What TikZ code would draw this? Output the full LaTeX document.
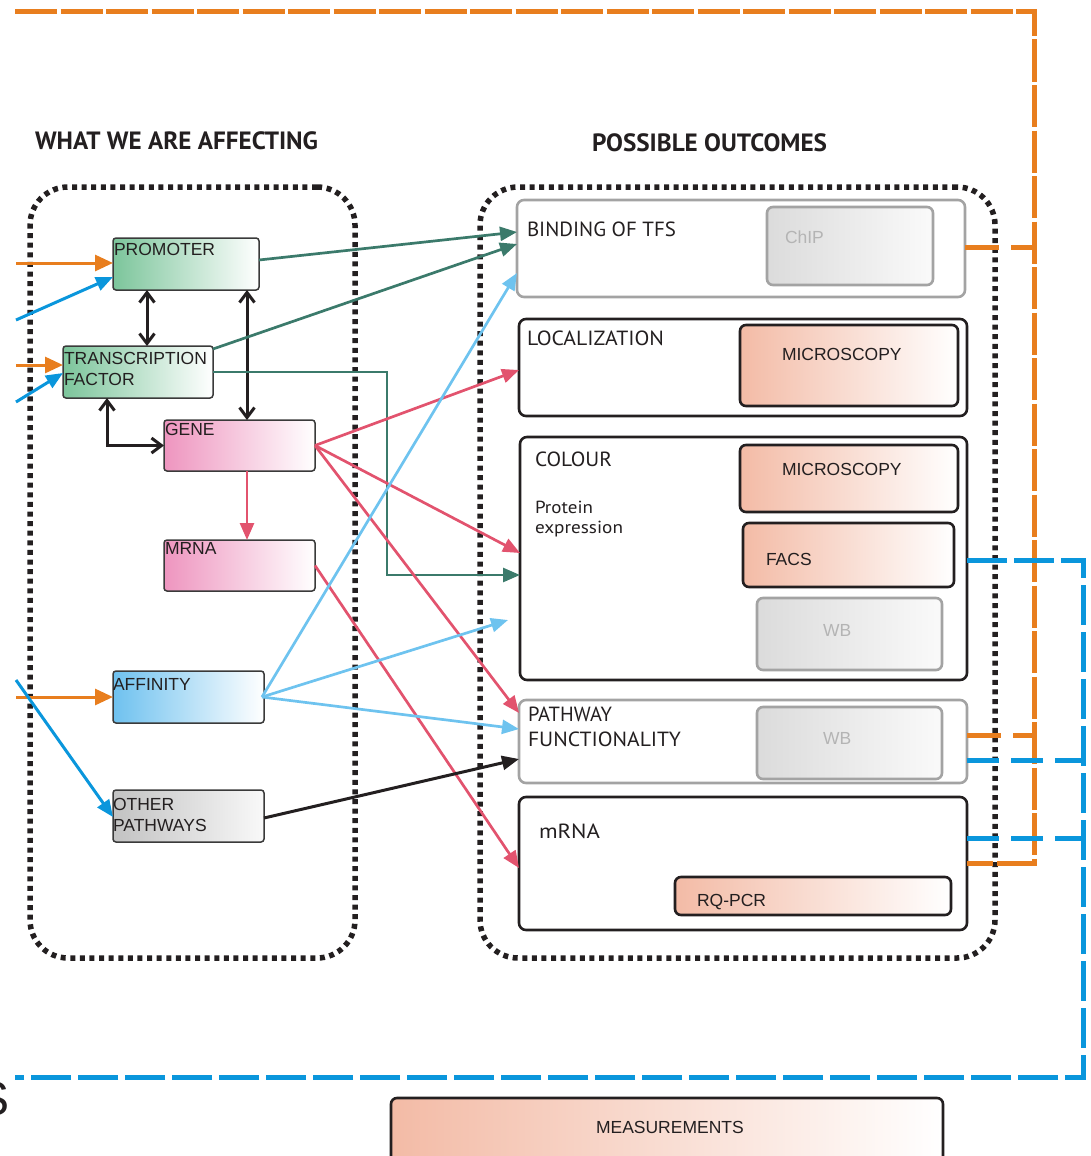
\documentclass[tikz,border=0pt]{standalone}
\usepackage{fontspec}
\usepackage{graphicx}
\setmainfont{Liberation Sans}
\newfontfamily\outfont{PT Sans}
\usetikzlibrary{arrows.meta,calc}

\definecolor{ink}{HTML}{231F20}
\definecolor{boxline}{HTML}{3A3A3A}
\definecolor{cgreen}{HTML}{7CC59B}
\definecolor{cpink}{HTML}{EE95BF}
\definecolor{cblue}{HTML}{6EC1EF}
\definecolor{cgrey}{HTML}{C2C2C2}
\definecolor{csalmon}{HTML}{F3BBA6}
\definecolor{ggrey}{HTML}{A3A3A3}
\definecolor{gtext}{HTML}{B4B4B4}
\definecolor{teal}{HTML}{3B7A6B}
\definecolor{cred}{HTML}{E2536E}
\definecolor{lblue}{HTML}{6EC3EF}
\definecolor{corange}{HTML}{E87E1E}
\definecolor{cdblue}{HTML}{0A96DC}

\newcommand\fitto[2]{\resizebox{#1}{\height}{#2}}

\begin{document}
\begin{tikzpicture}[x=1pt,y=-1pt,
  every node/.style={inner sep=0pt,outer sep=0pt,text=ink},
  wh/.style 2 args={minimum width=#1pt,minimum height=#2pt},
  lbox/.style={draw=boxline,line width=1.5pt,rounded corners=3pt,anchor=north west},
  greenbox/.style={lbox,left color=cgreen,right color=white},
  pinkbox/.style={lbox,left color=cpink,right color=white},
  bluebox/.style={lbox,left color=cblue,right color=white},
  greybox/.style={lbox,left color=cgrey,right color=gray!5},
  outbox/.style={draw=ink,line width=2.6pt,rounded corners=7pt,anchor=north west,fill=white},
  outboxg/.style={outbox,draw=ggrey},
  measbox/.style={draw=ink,line width=2.6pt,rounded corners=6pt,anchor=north west,left color=csalmon,right color=white},
  methbox/.style={draw=ggrey,line width=2.6pt,rounded corners=6pt,anchor=north west,left color=gray!28,right color=gray!4},
  frame/.style={draw=ink,line width=5.5pt,dash pattern=on 5pt off 4.6pt,rounded corners=38pt,anchor=north west},
  lab/.style={anchor=base west,align=left,font=\fontsize{17.5}{21}\selectfont},
  mlab/.style={anchor=base west,font=\fontsize{17.5}{21}\selectfont},
  glab/.style={mlab,text=gtext},
  olab/.style={anchor=base west,align=left,font=\outfont\fontsize{20.5}{25}\selectfont},
  hlab/.style={anchor=base west,font=\outfont\bfseries\fontsize{25}{30}\selectfont},
  conn/.style={line width=2.7pt},
  tip/.style={-{Triangle[length=17pt,width=14pt]}},
  tealarr/.style={conn,draw=teal,tip},
  redarr/.style={conn,draw=cred,tip},
  lbarr/.style={conn,draw=lblue,tip},
  blkarr/.style={conn,line width=3pt,draw=ink,tip},
  blkdbl/.style={conn,line width=3pt,draw=ink,{Straight Barb[length=10pt,width=15pt]}-{Straight Barb[length=10pt,width=15pt]}},
  orarr/.style={line width=3pt,draw=corange,-{Triangle[length=18pt,width=16pt]}},
  bluarr/.style={line width=3pt,draw=cdblue,-{Triangle[length=17pt,width=14pt]}},
  odash/.style={line width=5pt,draw=corange,dash pattern=on 42pt off 3.5pt},
  bdash/.style={line width=5pt,draw=cdblue,dash pattern=on 40pt off 7pt},
  ostub/.style={line width=5pt,draw=corange,dash pattern=on 34pt off 12pt},
  bstub/.style={line width=5pt,draw=cdblue,dash pattern=on 32pt off 12pt},
]
\useasboundingbox (0,0) rectangle (1090,1156);

% headings
\node (hleft) [hlab] at (35,149) {\fitto{283pt}{WHAT WE ARE AFFECTING}};
\node (hright) [hlab] at (592,151) {\fitto{235pt}{POSSIBLE OUTCOMES}};

% dotted group frames
\node (affect) [frame,wh={325}{771}] at (30,187) {};
\node (outcomes) [frame,wh={515}{771}] at (480,187) {};

% factors being affected
\node (promoter) [greenbox,wh={146}{52}] at (113,238) {};
\node (tf) [greenbox,wh={150}{52}] at (63,346) {};
\node (gene) [pinkbox,wh={151}{51}] at (164,420) {};
\node (mrna) [pinkbox,wh={151}{51}] at (164,540) {};
\node (affinity) [bluebox,wh={151}{52}] at (113,671) {};
\node (other) [greybox,wh={151}{52}] at (113,790) {};

\node (tpromoter) [lab] at (114,255.5) {PROMOTER};
\node (ttf) [lab] at (64,385.5) {TRANSCRIPTION\\FACTOR};
\node (tgene) [lab] at (165,435) {GENE};
\node (tmrna) [lab] at (165,554.5) {MRNA};
\node (taffinity) [lab] at (113,690) {AFFINITY};
\node (tother) [lab] at (113,831.5) {OTHER\\PATHWAYS};

% outcomes
\node (binding) [outboxg,wh={448}{97}] at (517,200) {};
\node (local) [outbox,wh={448}{97}] at (519,319) {};
\node (colour) [outbox,wh={447}{243}] at (520,437) {};
\node (pathway) [outboxg,wh={448}{83}] at (519,700) {};
\node (mrnabox) [outbox,wh={448}{133}] at (519,797) {};

\node (chip) [methbox,wh={166}{78}] at (767,207) {};
\node (micro1) [measbox,wh={218}{81}] at (740,325) {};
\node (micro2) [measbox,wh={218}{67}] at (740,445) {};
\node (facs) [measbox,wh={211}{64}] at (743,523) {};
\node (wb1) [methbox,wh={185}{72}] at (757,598) {};
\node (wb2) [methbox,wh={185}{72}] at (757,707) {};
\node (rqpcr) [measbox,wh={276}{38}] at (675,877) {};
\node (meas) [measbox,wh={552}{80}] at (391,1098) {};

\node (tbinding) [olab] at (527,236) {\fitto{149pt}{BINDING OF TFS}};
\node (tlocal) [olab] at (527,345) {\fitto{137pt}{LOCALIZATION}};
\node (tcolour) [olab] at (535,466) {\fitto{77pt}{COLOUR}};
\node (tprotein) [anchor=base west,font=\outfont\fontsize{17.5}{21}\selectfont] at (535,513) {\fitto{58pt}{Protein}};
\node (texpr) [anchor=base west,font=\outfont\fontsize{17.5}{21}\selectfont] at (535,533) {\fitto{88pt}{expression}};
\node (tpath1) [olab] at (528,721) {\fitto{84pt}{PATHWAY}};
\node (tpath2) [olab] at (528,746) {\fitto{153pt}{FUNCTIONALITY}};
\node (tmrnabox) [olab] at (539,838) {\fitto{61pt}{mRNA}};

\node (tchip) [glab] at (785,243.5) {ChIP};
\node (tmicro1) [mlab] at (782,360.5) {MICROSCOPY};
\node (tmicro2) [mlab] at (782,475.5) {MICROSCOPY};
\node (tfacs) [mlab] at (766,565.5) {FACS};
\node (twb1) [glab] at (823,636.5) {WB};
\node (twb2) [glab] at (823,744.5) {WB};
\node (trqpcr) [mlab] at (697,906.5) {RQ-PCR};
\node (tmeas) [mlab] at (596,1133.5) {MEASUREMENTS};

% partly visible letter at the lower left edge
\node (sglyph) [anchor=base east,font=\fontsize{48}{50}\selectfont] at (10,1115) {S};

% inputs from the left
\coordinate (inA) at (16,263);
\coordinate (inB) at (16,320);
\coordinate (inC) at (16,365);
\coordinate (inD) at (16,402);
\coordinate (inE) at (16,697);
\coordinate (inF) at (16,680);
\draw[orarr] (inA) -- ([yshift=1pt]promoter.west);
\draw[bluarr] (inB) -- ([yshift=-13pt]promoter.west);
\draw[orarr] (inC) -- ([yshift=7pt]tf.west);
\draw[bluarr] (inD) -- ([yshift=-1pt]tf.west);
\draw[orarr] (inE) -- (affinity.west);
\draw[bluarr] (inF) -- ([yshift=-1pt]other.west);

% interactions among the factors
\coordinate (p1) at ([xshift=34pt]promoter.south west);
\coordinate (p2) at ([xshift=134pt]promoter.south west);
\coordinate (g1) at ([xshift=83pt]gene.south west);
\draw[blkdbl] (p1) -- (p1 |- tf.north);
\draw[blkdbl] (p2) -- (p2 |- gene.north);
\draw[blkdbl] ([xshift=44pt]tf.south west) |- (gene.west);
\draw[redarr] (g1) -- (g1 |- mrna.north);

% effects on the outcomes
\draw[tealarr] ([yshift=4pt]promoter.east) -- ([yshift=16.5pt]binding.west);
\draw[tealarr] ([yshift=-3pt]tf.north east) -- ([yshift=4.5pt]binding.west);
\draw[tealarr] (tf.east) -- ++(174,0) |- ([yshift=-16.5pt]colour.west);
\draw[redarr] (gene.east) -- ([yshift=-2.5pt]local.west);
\draw[redarr] (gene.east) -- ([yshift=5.5pt]colour.west);
\draw[redarr] (gene.east) -- ([yshift=28.5pt]pathway.west);
\draw[redarr] (mrna.east) -- ([yshift=-4.5pt]mrnabox.west);
\coordinate (affend) at (508,620);
\draw[lbarr] ([xshift=-2pt]affinity.east) -- ([yshift=-24.5pt]binding.west);
\draw[lbarr] ([xshift=-2pt]affinity.east) -- (affend);
\draw[lbarr] ([xshift=-2pt]affinity.east) -- ([yshift=12.5pt]pathway.west);
\draw[blkarr] ([yshift=-2pt]other.east) -- ([yshift=-17.5pt]pathway.west);

% measurement feedback lines
\coordinate (o0) at (15,12);
\coordinate (o1) at (1034,12);
\coordinate (o2) at (1034,863);
\draw[ostub] ([yshift=1.5pt]binding.east) -- ++(69,0);
\draw[ostub] ([yshift=6.5pt]pathway.east) -- ++(67,0);
\draw[odash] (o0) -- (o1) -- (o2) -- (o2 -| mrnabox.east);

\coordinate (b1) at (1083,560);
\coordinate (b2) at (1083,1077);
\coordinate (b3) at (15,1077);
\draw[bstub] ([yshift=-18.5pt]pathway.east) -- ++(116,0);
\draw[bstub] ([yshift=25.5pt]mrnabox.east) -- ++(116,0);
\draw[bdash] ([yshift=-1.5pt]colour.east) -- (b1) -- (b2) -- (b3);
\end{tikzpicture}
\end{document}
